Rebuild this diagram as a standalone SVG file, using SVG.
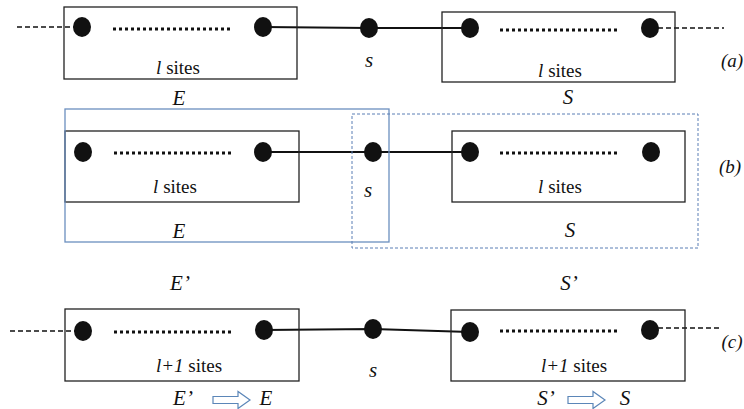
<svg xmlns="http://www.w3.org/2000/svg" width="744" height="409" viewBox="0 0 744 409">
  <defs>
    <style>
      .box { fill: none; stroke: #222; stroke-width: 1.3; }
      .env { fill: none; stroke: #6b8fbf; stroke-width: 1.3; }
      .envd { fill: none; stroke: #5a7fb5; stroke-width: 1; stroke-dasharray: 3 2; }
      .site { fill: #111; }
      .bond { stroke: #111; stroke-width: 2; fill: none; }
      .ext { stroke: #111; stroke-width: 1.6; stroke-dasharray: 5 3; fill: none; }
      .dots { stroke: #111; stroke-width: 3; stroke-dasharray: 3 3; fill: none; }
      text { font-family: "Liberation Serif", "DejaVu Serif", serif; fill: #111; text-anchor: middle; }
      .lab { font-size: 21px; font-style: italic; }
      .cnt { font-size: 19px; }
      .it { font-style: italic; }
      .tag { font-size: 19px; font-style: italic; }
      .move { fill: #fff; stroke: #5b86b8; stroke-width: 1.2; }
    </style>
    <ellipse id="dot" class="site" rx="9" ry="10"/>
    <path id="move" class="move" d="M0,-3.5 H25 V-8.5 L37,0 L25,8.5 V3.5 H0 Z"/>
  </defs>

  <!-- connectors: bonds, chain continuations and block contents -->
  <g id="connectors">
    <!-- (a) -->
    <line class="ext" x1="17" y1="27" x2="82" y2="27"/>
    <line class="dots" x1="113" y1="29" x2="233" y2="29"/>
    <path class="bond" d="M263,27 L369,28 L470,28"/>
    <line class="dots" x1="500" y1="30" x2="620" y2="30"/>
    <line class="ext" x1="650" y1="28" x2="724" y2="28"/>
    <!-- (b) -->
    <line class="dots" x1="114" y1="153" x2="234" y2="153"/>
    <path class="bond" d="M263,152 L373,152 L470,152"/>
    <line class="dots" x1="500" y1="153" x2="620" y2="153"/>
    <!-- (c) -->
    <line class="ext" x1="10" y1="331" x2="83" y2="331"/>
    <line class="dots" x1="114" y1="332" x2="234" y2="332"/>
    <path class="bond" d="M264,330 L373,329 L470,332"/>
    <line class="dots" x1="500" y1="331" x2="620" y2="331"/>
    <line class="ext" x1="650" y1="328" x2="721" y2="328"/>
  </g>

  <!-- row (a) -->
  <g id="block-E-a">
    <rect class="box" x="64" y="7" width="233" height="72"/>
    <use href="#dot" x="82" y="27"/>
    <use href="#dot" x="263" y="27"/>
    <text class="cnt" x="178" y="74"><tspan class="it">l</tspan> sites</text>
    <text class="lab" x="179" y="105">E</text>
  </g>
  <g id="site-s-a">
    <use href="#dot" x="369" y="28"/>
    <text class="lab" x="369" y="67">s</text>
  </g>
  <g id="block-S-a">
    <rect class="box" x="442" y="12" width="233" height="70"/>
    <use href="#dot" x="470" y="28"/>
    <use href="#dot" x="650" y="28"/>
    <text class="cnt" x="560" y="77"><tspan class="it">l</tspan> sites</text>
    <text class="lab" x="568" y="104">S</text>
  </g>
  <text class="tag" x="732" y="67">(a)</text>

  <!-- row (b) -->
  <g id="block-E-b">
    <rect class="box" x="65" y="131" width="234" height="71"/>
    <use href="#dot" x="83" y="152"/>
    <use href="#dot" x="263" y="152"/>
    <text class="cnt" x="175" y="193"><tspan class="it">l</tspan> sites</text>
  </g>
  <g id="site-s-b">
    <use href="#dot" x="373" y="152"/>
    <text class="lab" x="368" y="197">s</text>
  </g>
  <g id="block-S-b">
    <rect class="box" x="452" y="131" width="233" height="71"/>
    <use href="#dot" x="470" y="152"/>
    <use href="#dot" x="651" y="152"/>
    <text class="cnt" x="560" y="193"><tspan class="it">l</tspan> sites</text>
  </g>
  <g id="enlarged-E">
    <rect class="env" x="65" y="109" width="324" height="133"/>
    <text class="lab" x="179" y="238">E</text>
  </g>
  <g id="enlarged-S">
    <rect class="envd" x="352" y="114" width="346" height="134"/>
    <text class="lab" x="570" y="237">S</text>
  </g>
  <text class="tag" x="730" y="173">(b)</text>
  <text class="lab" x="180" y="290">E’</text>
  <text class="lab" x="569" y="290">S’</text>

  <!-- row (c) -->
  <g id="block-E-c">
    <rect class="box" x="65" y="309" width="234" height="72"/>
    <use href="#dot" x="83" y="331"/>
    <use href="#dot" x="264" y="330"/>
    <text class="cnt" x="189" y="372"><tspan class="it">l+1</tspan> sites</text>
  </g>
  <g id="site-s-c">
    <use href="#dot" x="373" y="329"/>
    <text class="lab" x="373" y="377">s</text>
  </g>
  <g id="block-S-c">
    <rect class="box" x="451" y="310" width="234" height="71"/>
    <use href="#dot" x="470" y="332"/>
    <use href="#dot" x="650" y="330"/>
    <text class="cnt" x="574" y="372"><tspan class="it">l+1</tspan> sites</text>
  </g>
  <text class="tag" x="732" y="348">(c)</text>

  <g id="rename-E">
    <text class="lab" x="183" y="405">E’</text>
    <use href="#move" x="213" y="400"/>
    <text class="lab" x="266" y="405">E</text>
  </g>
  <g id="rename-S">
    <text class="lab" x="546" y="405">S’</text>
    <use href="#move" x="568" y="400"/>
    <text class="lab" x="625" y="405">S</text>
  </g>
</svg>
